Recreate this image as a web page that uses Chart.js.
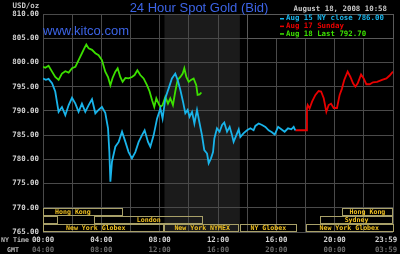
<!DOCTYPE html>
<html>
<head>
<meta charset="utf-8">
<script src="https://cdn.jsdelivr.net/npm/chart.js@4"></script>
<style>
  html, body { margin: 0; padding: 0; background: #000; }
  #wrap { width: 400px; height: 254px; }
</style>
</head>
<body>
<div id="wrap"><canvas id="goldChart"></canvas></div>
<script>
// hours are NY time, 0..24
const friHours = [0,0.2,0.38,0.62,0.84,1.07,1.3,1.53,1.76,1.99,2.22,2.44,2.67,2.9,3.13,3.36,3.59,3.81,4.04,4.27,4.46,4.55,4.62,4.73,4.96,5.19,5.42,5.65,5.87,6.1,6.33,6.56,6.79,6.97,7.2,7.36,7.59,7.82,8.05,8.2,8.39,8.61,8.84,9.07,9.23,9.42,9.6,9.76,9.92,10.05,10.22,10.38,10.56,10.74,10.9,11.06,11.25,11.36,11.52,11.66,11.75,11.93,12.11,12.28,12.43,12.62,12.8,12.96,13.07,13.26,13.42,13.53,13.76,13.99,14.22,14.44,14.56,14.79,15.02,15.25,15.47,15.7,15.89,16.12,16.34,16.57,16.8,17.03,17.19,17.3];
const friPrices = [796.7,796.4,796.6,795.7,794,789.8,790.8,789.1,791.2,792.7,791.5,789.8,791.5,789.8,791.2,792.4,789.5,790.2,790.8,789.6,786.4,781.5,775.4,779.5,782.6,783.6,785.7,783.6,781.5,780.2,781.5,783.6,785,786,783.6,782.6,785,788.4,790.5,788.4,792.6,794.6,796.7,797.7,796.4,794.3,791.9,789.5,790.2,788.8,789.8,787.4,790.2,787.4,785,781.9,781.2,779.2,780.2,781.5,784.3,786.4,785.7,787.1,787.6,785.7,786.7,785,783.6,785,786.2,784.6,785.4,786,786.4,786,786.9,787.4,787.1,786.7,786,785.6,785.1,786.7,786.2,785.7,786.4,786.2,786.7,786];

const sunHours = [17.3,18.05,18.1,18.15,18.28,18.45,18.68,18.9,19.07,19.25,19.43,19.59,19.75,19.93,20.16,20.34,20.5,20.66,20.89,21.08,21.26,21.42,21.58,21.81,21.99,22.17,22.4,22.63,22.91,23.25,23.55,23.77,24];
const sunPrices = [786,786,790.5,791.2,790.5,791.9,793.3,794.1,794,792.6,789.8,791.2,791.5,790.6,790.6,793.3,794.6,796.4,798.1,797,795.7,795,795.7,797.5,796.7,795.5,795.5,795.9,796,796.4,796.7,797.3,798.1];

const monHours = [0,0.16,0.38,0.62,0.84,1.07,1.3,1.53,1.76,1.99,2.22,2.44,2.67,2.83,2.97,3.13,3.36,3.59,3.81,4.04,4.27,4.46,4.62,4.77,4.96,5.12,5.3,5.46,5.65,5.87,6.1,6.28,6.47,6.67,6.9,7.13,7.31,7.48,7.63,7.77,7.93,8.05,8.2,8.39,8.57,8.73,8.91,9.07,9.23,9.42,9.58,9.69,9.83,9.99,10.15,10.33,10.51,10.6,10.74,10.86];
const monPrices = [799.1,798.9,799.3,798.1,797,796.4,797.7,798.2,797.9,798.8,799.1,800.5,801.9,802.9,803.7,802.9,802.6,801.9,801.5,800.5,798.1,797,795.3,796.8,798.1,798.8,797,796,796.8,796.7,797,797.4,798.4,797.4,796.7,795.3,794,792.2,790.8,792.6,791.5,790.8,791.2,792.9,791.5,792.6,791.2,794,796.4,797,797.7,798.8,797,796,796.4,796.7,795.3,793.3,793.4,793.8];

const seriesLabels = ['Aug 15 NY close 786.00', 'Aug 17 Sunday', 'Aug 18 Last 792.70'];
const seriesColors = ['#19b4ea', '#e80000', '#3ce000'];

const nyTickLabels = ['00:00', '04:00', '08:00', '12:00', '16:00', '20:00', '23:59'];
const gmtTickLabels = ['04:00', '08:00', '12:00', '16:00', '20:00', '00:00', '03:59'];
const tickHours = [0, 4, 8, 12, 16, 20, 24];

// NY trading session (shaded)
const nymexOpen = 8.33;
const nymexClose = 13.5;

// market sessions: name, start hour, end hour, row
const sessionNames = ['Hong Kong', 'Hong Kong', '', 'London', 'Sydney', 'New York Globex', 'New York NYMEX', 'NY Globex', 'New York Globex'];
const sessionStart = [-1.4, 20.5, 0, 3.5, 19, -1.1, 8.33, 13.5, 18];
const sessionEnd = [5.5, 24, 1, 11, 24, 8.33, 13.5, 17.4, 24];
const sessionRow = [0, 0, 1, 1, 1, 2, 2, 2, 2];

function toPoints(xs, ys) {
    return xs.map(function (x, i) { return { x: x, y: ys[i] }; });
}

const mono = "'DejaVu Sans Mono', monospace";

const kitcoPlugin = {
    id: 'kitco',
    beforeDraw: function (chart) {
        const c = chart.ctx;
        const x = chart.scales.x;
        const area = chart.chartArea;
        c.save();
        c.fillStyle = '#000';
        c.fillRect(0, 0, chart.width, chart.height);
        c.fillStyle = '#1b1b1b';
        const a = x.getPixelForValue(nymexOpen), b = x.getPixelForValue(nymexClose);
        c.fillRect(a, area.top, b - a, area.bottom - area.top);
        c.restore();
    },
    afterDatasetsDraw: function (chart) {
        const c = chart.ctx;
        const x = chart.scales.x;
        const y = chart.scales.y;
        const area = chart.chartArea;
        c.save();

        // session boxes in the 765-770 band
        const rowH = 5 / 3;
        c.lineWidth = 1;
        for (let i = 0; i < sessionNames.length; i++) {
            const top = y.getPixelForValue(770 - sessionRow[i] * rowH);
            const bot = y.getPixelForValue(770 - (sessionRow[i] + 1) * rowH);
            const x0 = Math.max(x.getPixelForValue(sessionStart[i]), area.left);
            const x1 = Math.min(x.getPixelForValue(sessionEnd[i]), area.right);
            c.strokeStyle = '#a8a068';
            c.strokeRect(Math.round(x0) + 0.5, Math.round(top) + 0.5, Math.round(x1 - x0) - 1, Math.round(bot - top) - 1);
            if (sessionNames[i]) {
                const mid = (x.getPixelForValue(sessionStart[i]) + x.getPixelForValue(sessionEnd[i])) / 2;
                c.fillStyle = '#f0c020';
                c.font = 'bold 6.6px ' + mono;
                c.textAlign = 'center';
                c.textBaseline = 'middle';
                c.fillText(sessionNames[i], mid, (top + bot) / 2 + 0.5);
            }
        }

        // legend box
        const lx = x.getPixelForValue(14);
        c.fillStyle = '#000';
        c.fillRect(lx, area.top, area.right - lx, 24.5);
        c.strokeStyle = '#5a5a5a';
        c.strokeRect(Math.round(lx) + 0.5, Math.round(area.top) + 0.5, Math.round(area.right - lx), 24);
        c.font = 'bold 7.4px ' + mono;
        c.textAlign = 'left';
        c.textBaseline = 'middle';
        for (let i = 0; i < seriesLabels.length; i++) {
            const ly = area.top + 4.5 + i * 7.6;
            c.fillStyle = seriesColors[i];
            c.fillRect(280, ly - 0.5, 4, 1.5);
            c.fillText(seriesLabels[i], 286, ly);
        }

        // x tick labels, NY and GMT rows
        c.textAlign = 'center';
        for (let i = 0; i < tickHours.length; i++) {
            let px = x.getPixelForValue(tickHours[i]);
            if (px > chart.width - 14) px = chart.width - 14;
            c.fillStyle = '#d4d4d4';
            c.fillText(nyTickLabels[i], px, 240);
            c.fillStyle = '#6c6c6c';
            c.fillText(gmtTickLabels[i], px, 250);
        }
        c.font = 'bold 6.6px ' + mono;
        c.fillStyle = '#bcbcbc';
        c.fillText('NY Time', 15, 240);
        c.fillText('GMT', 13, 250);

        // headers
        c.font = 'bold 7.4px ' + mono;
        c.textAlign = 'left';
        c.textBaseline = 'alphabetic';
        c.fillStyle = '#c8c8c8';
        c.fillText('USD/oz', 12.5, 7.5);
        c.textAlign = 'right';
        c.fillText('August 18, 2008 10:58', 387, 11);

        c.fillStyle = '#3c64e6';
        c.font = "13px 'Liberation Sans', Arial, sans-serif";
        c.textAlign = 'center';
        c.fillText('24 Hour Spot Gold (Bid)', 199, 12);
        c.textAlign = 'left';
        c.fillText('www.kitco.com', 43, 35);
        c.restore();
    }
};

document.addEventListener('DOMContentLoaded', function () {
    const ctx = document.getElementById('goldChart').getContext('2d');
    const lineStyle = { showLine: true, pointRadius: 0, borderWidth: 1.8, tension: 0, fill: false };

    new Chart(ctx, {
        type: 'scatter',
        data: {
            datasets: [
                Object.assign({ label: seriesLabels[0], data: toPoints(friHours, friPrices), borderColor: seriesColors[0] }, lineStyle),
                Object.assign({ label: seriesLabels[1], data: toPoints(sunHours, sunPrices), borderColor: seriesColors[1] }, lineStyle),
                Object.assign({ label: seriesLabels[2], data: toPoints(monHours, monPrices), borderColor: seriesColors[2] }, lineStyle)
            ]
        },
        options: {
            responsive: true,
            maintainAspectRatio: false,
            animation: false,
            events: [],
            layout: { padding: { top: 14, right: 7, bottom: 22, left: 0 } },
            plugins: {
                legend: { display: false },
                tooltip: { enabled: false }
            },
            scales: {
                x: {
                    type: 'linear',
                    min: 0,
                    max: 24,
                    ticks: { stepSize: 2, display: false },
                    grid: { color: '#4a4a4a', drawTicks: false },
                    border: { display: false },
                    afterFit: function (scale) { scale.height = 0; }
                },
                y: {
                    min: 765,
                    max: 810,
                    ticks: {
                        stepSize: 5,
                        color: '#d4d4d4',
                        padding: 4,
                        font: { family: 'DejaVu Sans Mono', size: 7.4, weight: 'bold' },
                        callback: function (v) { return v.toFixed(2); }
                    },
                    grid: { color: '#4a4a4a', drawTicks: false },
                    border: { color: '#4a4a4a' },
                    afterFit: function (scale) { scale.width = 43; }
                }
            }
        },
        plugins: [kitcoPlugin]
    });
});
</script>
</body>
</html>
